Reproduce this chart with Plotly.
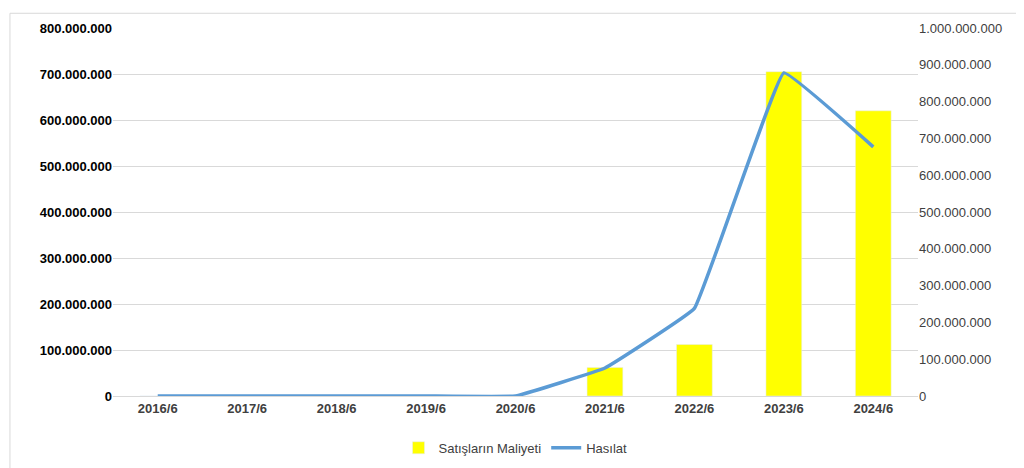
import plotly.graph_objects as go

categories = ["2016/6","2017/6","2018/6","2019/6","2020/6","2021/6","2022/6","2023/6","2024/6"]
maliyet = [0,0,0,0,0,62000000,112000000,705000000,620000000]
hasilat = [0,0,0,0,0,76000000,238000000,878000000,677000000]

fig = go.Figure()
fig.add_trace(go.Bar(x=categories, y=maliyet, name="Satışların Maliyeti",
                     marker_color="#FFFF00", width=0.4))
fig.add_trace(go.Scatter(x=categories, y=hasilat, name="Hasılat", yaxis="y2",
                         mode="lines", line=dict(color="#5B9BD5", width=3.5, shape="spline", smoothing=0.2)))
ff = "Liberation Sans, Arial"
fig.update_layout(
    width=1024, height=468, separators=",.",
    paper_bgcolor="white", plot_bgcolor="white", font=dict(family=ff, size=13, color="#404040"),
    margin=dict(l=105, r=114, t=20, b=80, autoexpand=False),
    xaxis=dict(tickfont=dict(size=13, color="#404040", family=ff, weight="bold"),
               showline=True, linecolor="#D9D9D9", ticks="", tickangle=0),
    yaxis=dict(range=[0,800000000], dtick=100000000, tickformat=",d",
               gridcolor="#D9D9D9", zeroline=False,
               tickfont=dict(size=13, color="#000", family=ff, weight="bold")),
    yaxis2=dict(range=[0,1000000000], dtick=100000000, tickformat=",d", overlaying="y",
                side="right", showgrid=False, zeroline=False,
                tickfont=dict(size=13, color="#404040", family=ff)),
    legend=dict(orientation="h", x=0.5, xanchor="center", y=-0.1, yanchor="top",
                font=dict(size=13, color="#404040")),
    shapes=[dict(type="rect", xref="paper", yref="paper", x0=-0.128, x1=1.14, y0=-0.2, y1=1.04,
                 line=dict(color="#D9D9D9", width=1))],
)
fig.write_html("out.html")
